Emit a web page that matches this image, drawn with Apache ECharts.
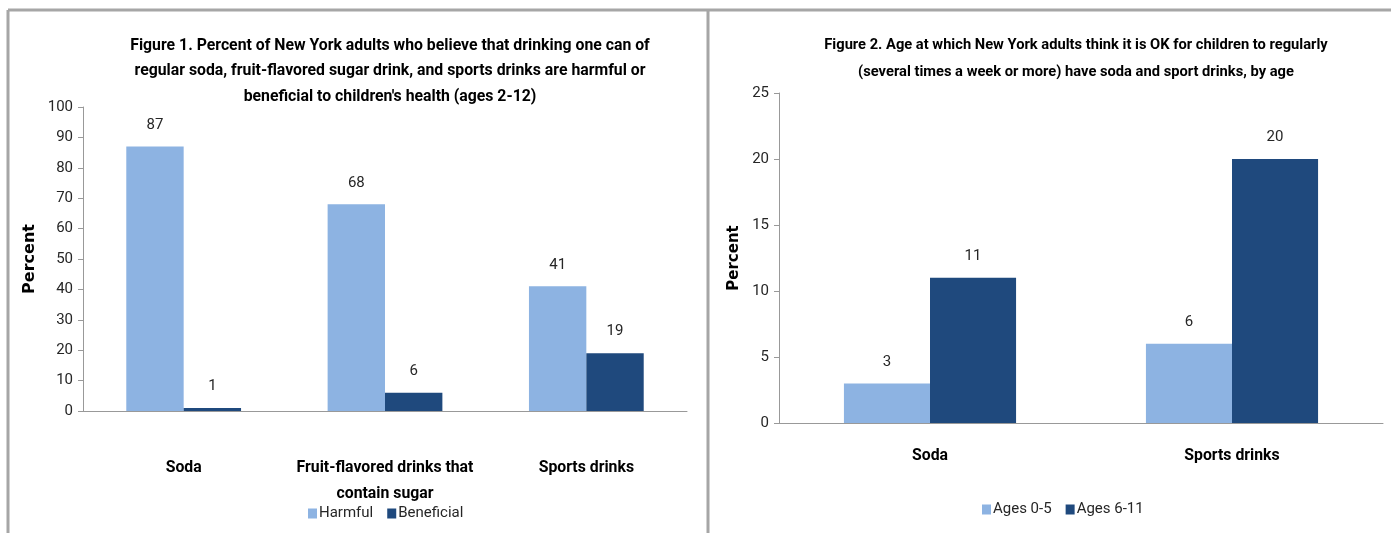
<!DOCTYPE html>
<html>
<head>
<meta charset="utf-8">
<script src="https://cdn.jsdelivr.net/npm/echarts@6/dist/echarts.min.js"></script>
<style>
  html, body { margin: 0; padding: 0; background: #fff; }
  #chart { width: 1391px; height: 533px; }
</style>
</head>
<body>
<div id="chart"></div>
<script>
// Figure 1
var fig1Categories = ['Soda', 'Fruit-flavored drinks that\ncontain sugar', 'Sports drinks']
var fig1Harmful = [87, 68, 41]
var fig1Beneficial = [1, 6, 19]
var fig1Ticks = { min: 0, max: 100, interval: 10 }

// Figure 2
var fig2Categories = ['Soda', 'Sports drinks']
var fig2Young = [3, 6]
var fig2Older = [11, 20]
var fig2Ticks = { min: 0, max: 25, interval: 5 }

var FONT = 'Roboto, "Open Sans", sans-serif'
var LIGHT = '#8DB3E2'
var DARK = '#1F497D'
var TEXT = '#262626'

var chart = echarts.init(document.getElementById('chart'))

function valueAxis(idx, ticks, nameGap, nameSize) {
  return {
    type: 'value',
    gridIndex: idx,
    min: ticks.min,
    max: ticks.max,
    interval: ticks.interval,
    name: 'Percent',
    nameLocation: 'middle',
    nameGap: nameGap,
    nameTextStyle: { fontFamily: 'DejaVu Sans', fontWeight: 'bold', fontSize: nameSize, color: '#000' },
    axisLine: { show: true, lineStyle: { color: '#999' } },
    axisTick: { show: true, length: 5, lineStyle: { color: '#999' } },
    axisLabel: { fontFamily: FONT, fontSize: 15, color: TEXT, margin: 10 },
    splitLine: { show: false }
  }
}

function catAxis(idx, cats, margin) {
  return {
    type: 'category',
    gridIndex: idx,
    data: cats,
    axisLine: { lineStyle: { color: '#999' } },
    axisTick: { length: 6, lineStyle: { color: '#999' } },
    axisLabel: {
      interval: 0,
      fontFamily: FONT,
      fontWeight: 'bold',
      fontSize: 15.8,
      lineHeight: 26,
      color: '#000',
      margin: margin
    }
  }
}

function barSeries(name, data, color, idx) {
  return {
    name: name,
    type: 'bar',
    xAxisIndex: idx,
    yAxisIndex: idx,
    data: data,
    barGap: '0%',
    barCategoryGap: '43%',
    itemStyle: { color: color },
    label: {
      show: true,
      position: 'top',
      distance: 14,
      fontFamily: FONT,
      fontSize: 15,
      color: TEXT
    }
  }
}

chart.setOption({
  animation: false,
  title: [
    {
      text: 'Figure 1. Percent of New York adults who believe that drinking one can of\nregular soda, fruit-flavored sugar drink, and sports drinks are harmful or\nbeneficial to children\'s health (ages 2-12)',
      left: 385,
      top: 28,
      textAlign: 'center',
      textStyle: { fontFamily: FONT, fontWeight: 'bold', fontSize: 15.8, lineHeight: 25.5, color: '#000' }
    },
    {
      text: 'Figure 2. Age at which New York adults think it is OK for children to regularly\n(several times a week or more) have soda and sport drinks, by age',
      left: 1071,
      top: 27,
      textAlign: 'center',
      textStyle: { fontFamily: FONT, fontWeight: 'bold', fontSize: 14.7, lineHeight: 27, color: '#000' }
    }
  ],
  legend: [
    {
      data: ['Harmful', 'Beneficial'],
      left: 303,
      top: 501,
      itemWidth: 9,
      itemHeight: 10,
      itemGap: 14,
      icon: 'rect',
      textStyle: { fontFamily: FONT, fontSize: 15, color: TEXT, padding: [0, 0, 0, -3] }
    },
    {
      data: ['Ages 0-5', 'Ages 6-11'],
      left: 977,
      top: 497,
      itemWidth: 9,
      itemHeight: 10,
      itemGap: 14,
      icon: 'rect',
      textStyle: { fontFamily: FONT, fontSize: 15, color: TEXT, padding: [0, 0, 0, -3] }
    }
  ],
  grid: [
    { left: 83, top: 107, width: 604, height: 304 },
    { left: 779, top: 93, width: 604, height: 330 }
  ],
  xAxis: [
    catAxis(0, fig1Categories, 44),
    catAxis(1, fig2Categories, 20)
  ],
  yAxis: [
    valueAxis(0, fig1Ticks, 45, 16),
    valueAxis(1, fig2Ticks, 37, 15)
  ],
  series: [
    barSeries('Harmful', fig1Harmful, LIGHT, 0),
    barSeries('Beneficial', fig1Beneficial, DARK, 0),
    barSeries('Ages 0-5', fig2Young, LIGHT, 1),
    barSeries('Ages 6-11', fig2Older, DARK, 1)
  ],
  graphic: [
    { type: 'line', shape: { x1: 8, y1: 10, x2: 1391, y2: 10 }, style: { stroke: '#a6a6a6', lineWidth: 3 } },
    { type: 'line', shape: { x1: 8, y1: 10, x2: 8, y2: 533 }, style: { stroke: '#a6a6a6', lineWidth: 3 } },
    { type: 'line', shape: { x1: 708, y1: 10, x2: 708, y2: 533 }, style: { stroke: '#a6a6a6', lineWidth: 3 } }
  ]
})
</script>
</body>
</html>
